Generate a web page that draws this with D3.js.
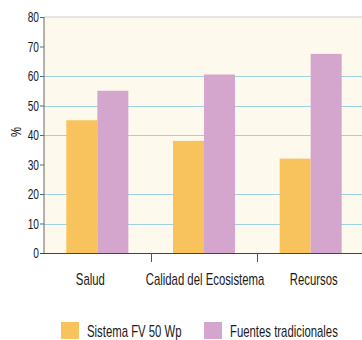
<!DOCTYPE html>
<html>
<head>
<meta charset="utf-8">
<script src="https://cdn.jsdelivr.net/npm/d3@7"></script>
<style>
  html, body { margin: 0; padding: 0; background: #fff; }
  svg { display: block; }
  text { font-family: "Liberation Sans", Arial, sans-serif; fill: #1a1a1a; }
</style>
</head>
<body>
<svg id="chart" width="362" height="340"></svg>
<script>
// Data
const categories = ["Salud", "Calidad del Ecosistema", "Recursos"];
const seriesNames = ["Sistema FV 50 Wp", "Fuentes tradicionales"];
const fvValues = [45, 38, 32];
const tradValues = [55, 60.5, 67.5];
const yTicks = [0, 10, 20, 30, 40, 50, 60, 70, 80];
const gridValues = [10, 20, 40, 50, 60];
const colors = ["#f8c25c", "#d4a6cd"];

const svg = d3.select("#chart");
const W = 362, H = 340;
const plot = { left: 44, right: 364, top: 17, bottom: 253 };
const narrow = 0.71; // horizontal squeeze for a condensed look
const labelNudge = [-7, 1, 3]; // small horizontal shifts of the category labels

const y = d3.scaleLinear().domain([0, 80]).range([plot.bottom, plot.top]);
const x0 = d3.scaleBand().domain(categories).range([plot.left, plot.right]).paddingInner(0).paddingOuter(0);
const groupW = 62;
const x1 = d3.scaleBand().domain(seriesNames).range([0, groupW]).padding(0);

// plot background
svg.append("rect")
  .attr("x", plot.left).attr("y", plot.top)
  .attr("width", W - plot.left).attr("height", plot.bottom - plot.top)
  .attr("fill", "#fdfaed");

// top border
svg.append("line")
  .attr("x1", plot.left).attr("x2", W)
  .attr("y1", y(80)).attr("y2", y(80))
  .attr("stroke", "#c9ccd0").attr("stroke-width", 1);

// gridlines
svg.append("g").selectAll("line").data(gridValues).join("line")
  .attr("x1", plot.left).attr("x2", W)
  .attr("y1", d => Math.round(y(d)) + 0.5).attr("y2", d => Math.round(y(d)) + 0.5)
  .attr("stroke", "#9ed2e2").attr("stroke-width", 1.2);

// bars
const rows = categories.map((c, i) => ({ cat: c, vals: [fvValues[i], tradValues[i]] }));
const groups = svg.append("g").selectAll("g").data(rows).join("g")
  .attr("transform", d => `translate(${x0(d.cat) + (x0.bandwidth() - groupW) / 2},0)`);
groups.selectAll("rect").data(d => d.vals.map((v, j) => ({ name: seriesNames[j], v, j })))
  .join("rect")
  .attr("x", d => x1(d.name))
  .attr("width", x1.bandwidth())
  .attr("y", d => y(d.v))
  .attr("height", d => y(0) - y(d.v))
  .attr("fill", d => colors[d.j]);

// y axis
const yAxis = d3.axisLeft(y).tickValues(yTicks).tickSize(4).tickPadding(1).tickFormat(d3.format("d"));
const gy = svg.append("g").attr("transform", `translate(${plot.left},0)`).call(yAxis);
gy.select(".domain").attr("stroke", "#666").attr("d", `M0,${plot.top}V${plot.bottom}`);
gy.selectAll(".tick line").attr("stroke", "#666");
gy.selectAll(".tick text")
  .style("font-size", "15px").attr("fill", "#2a2a2a")
  .attr("x", -5 / 0.68).attr("transform", "scale(0.68,1)");

// x axis
svg.append("line")
  .attr("x1", plot.left - 4).attr("x2", W)
  .attr("y1", plot.bottom + 0.5).attr("y2", plot.bottom + 0.5)
  .attr("stroke", "#444").attr("stroke-width", 1.2);
svg.append("g").selectAll("line").data(categories.slice(1)).join("line")
  .attr("x1", d => Math.round(x0(d)) + 0.5).attr("x2", d => Math.round(x0(d)) + 0.5)
  .attr("y1", plot.bottom).attr("y2", plot.bottom + 9)
  .attr("stroke", "#555");

svg.append("g").selectAll("text").data(categories).join("text")
  .attr("transform", (d, i) => `translate(${x0(d) + x0.bandwidth() / 2 + labelNudge[i]},285) scale(${narrow},1)`)
  .attr("text-anchor", "middle")
  .style("font-size", "16px")
  .text(d => d);

// y label
svg.append("text")
  .attr("transform", "translate(21,132) rotate(-90) scale(0.75,1)")
  .attr("text-anchor", "middle")
  .style("font-size", "15px")
  .text("%");

// legend
const legendX = [61, 204];
const leg = svg.append("g").selectAll("g").data(seriesNames).join("g")
  .attr("transform", (d, i) => `translate(${legendX[i]},322)`);
leg.append("rect").attr("width", 18).attr("height", 17).attr("fill", (d, i) => colors[i]);
leg.append("text")
  .attr("transform", `translate(26,15) scale(${narrow},1)`)
  .style("font-size", "16px")
  .text(d => d);
</script>
</body>
</html>
